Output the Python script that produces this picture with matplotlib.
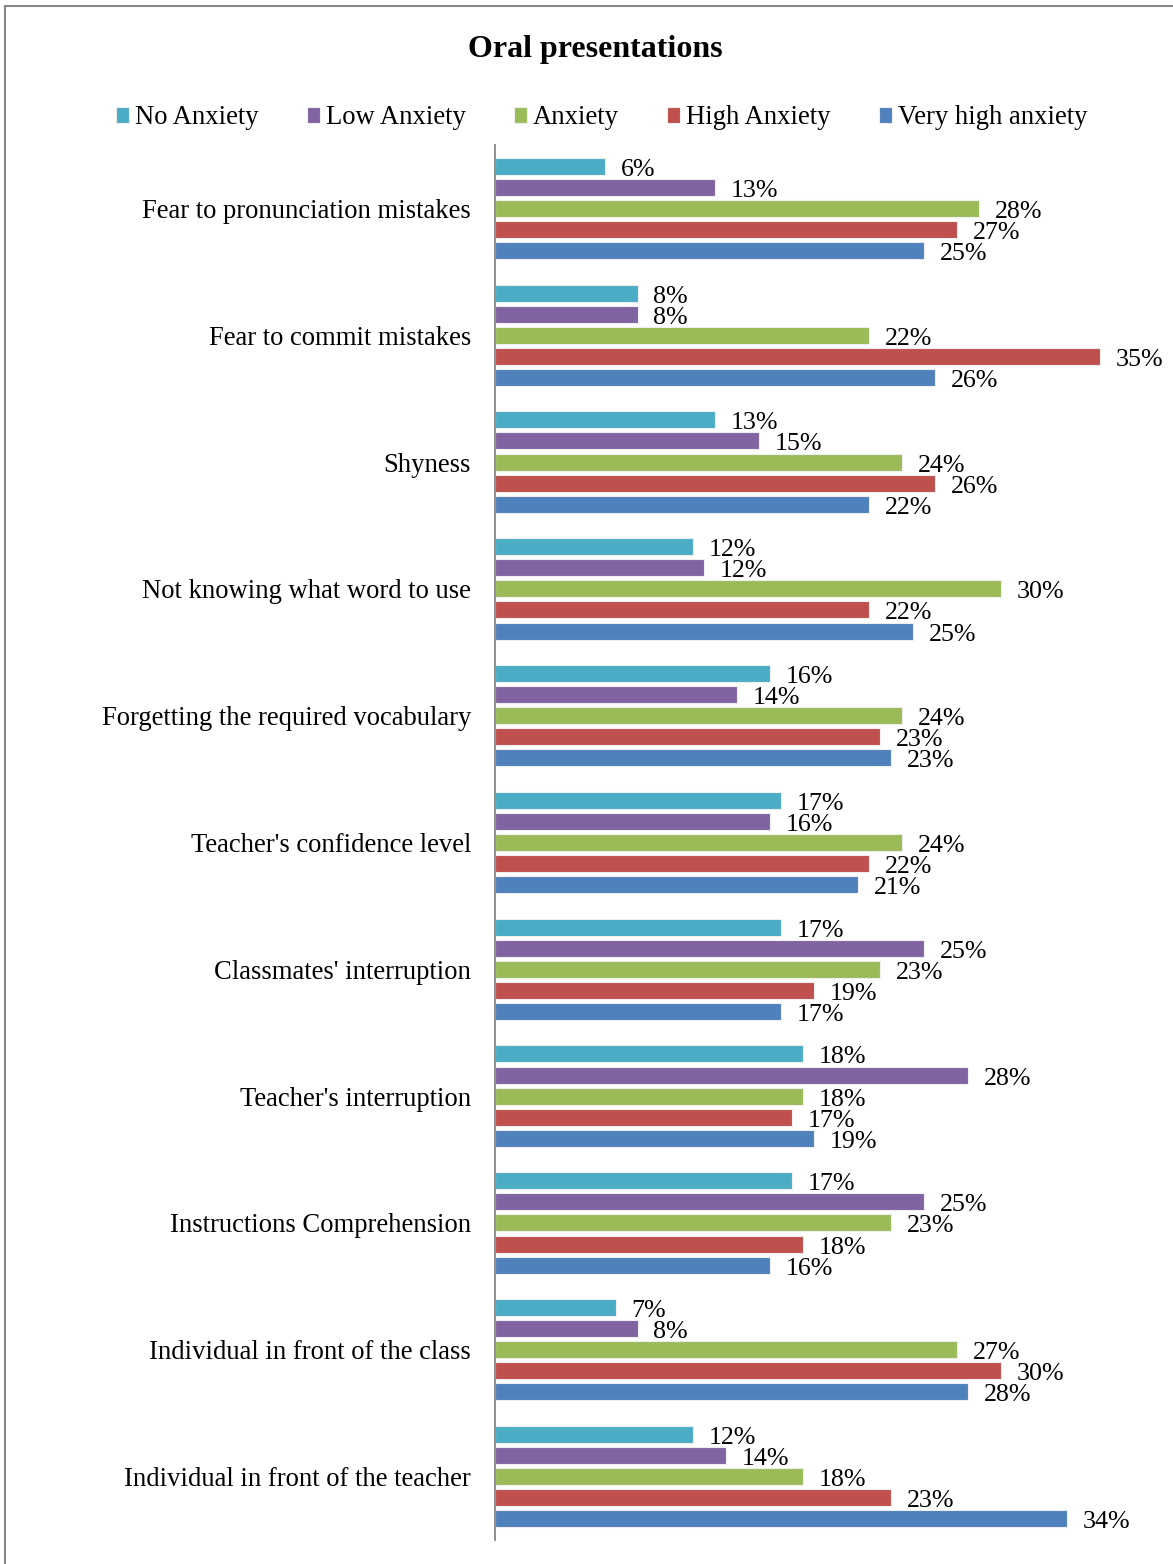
import matplotlib
matplotlib.use("Agg")
import matplotlib.pyplot as plt
import numpy as np
from matplotlib.patches import Rectangle

plt.rcParams["font.family"] = ["Liberation Serif", "DejaVu Serif"]

categories = [
    "Fear to pronunciation mistakes",
    "Fear to commit mistakes",
    "Shyness",
    "Not knowing what word to use",
    "Forgetting the required vocabulary",
    "Teacher's confidence level",
    "Classmates' interruption",
    "Teacher's interruption",
    "Instructions Comprehension",
    "Individual in front of the class",
    "Individual in front of the teacher",
]
series_names = ["No Anxiety", "Low Anxiety", "Anxiety", "High Anxiety", "Very high anxiety"]

# answers per level (155 respondents per item)
N_RESP = 155
no_anxiety = [10, 13, 20, 18, 25, 26, 26, 28, 27, 11, 18]
low_anxiety = [20, 13, 24, 19, 22, 25, 39, 43, 39, 13, 21]
anxiety = [44, 34, 37, 46, 37, 37, 35, 28, 36, 42, 28]
high_anxiety = [42, 55, 40, 34, 35, 34, 29, 27, 28, 46, 36]
very_high = [39, 40, 34, 38, 36, 33, 26, 29, 25, 43, 52]
colors = ["#4BACC6", "#8064A2", "#9BBB59", "#C0504D", "#4F81BD"]

W, H = 1173, 1564
fig = plt.figure(figsize=(W / 100, H / 100), dpi=100)

# chart frame (cut off at right/bottom like the source)
fig.patches.append(Rectangle((5 / W, -0.05), 1.2, 1 - 6 / H + 0.05,
                             transform=fig.transFigure, fill=False,
                             edgecolor="#888888", lw=1.5))

x0 = 494.5
px_per_pct = 11 * N_RESP / 100
ax = fig.add_axes([x0 / W, 1 - 1540 / H, (W - x0) / W, (1540 - 145) / H])

group_px = 126.84
step = 21.1 / group_px
bar_h = 17 / group_px
y = np.arange(len(categories))
all_series = [no_anxiety, low_anxiety, anxiety, high_anxiety, very_high]
for k, (counts, name, col) in enumerate(zip(all_series, series_names, colors)):
    pct = np.array(counts) / N_RESP * 100
    pos = y + (k - 2) * step
    ax.barh(pos, pct, height=bar_h, color=col, edgecolor="#eeeeee", lw=0.8, label=name)
    for p, v in zip(pos, pct):
        ax.annotate(f"{v:.0f}%", xy=(v, p), xytext=(11.5, -2.5), textcoords="offset points",
                    ha="left", va="center", fontsize=18.7)

ax.set_ylim(len(categories) - 0.5, -0.5)
ax.set_xlim(0, (W - x0) / px_per_pct)
ax.set_yticks(y)
ax.set_yticklabels(categories, fontsize=19.2)
ax.tick_params(axis="y", length=0, pad=17)
ax.set_xticks([])
for s in ["top", "right", "bottom"]:
    ax.spines[s].set_visible(False)
ax.spines["left"].set_color("#868686")
ax.spines["left"].set_linewidth(1.3)
ax.patch.set_visible(False)

fig.text(595 / W, 1 - 50 / H, "Oral presentations", ha="center", va="center",
         fontsize=23, fontweight="bold")

fig.legend(*ax.get_legend_handles_labels(), loc="center", ncol=5,
           bbox_to_anchor=(601.5 / W, 1 - 118 / H), frameon=False, fontsize=19.2,
           handlelength=0.5, handleheight=0.5, handletextpad=0.22, columnspacing=1.8)

fig.savefig("out.png", dpi=100)
